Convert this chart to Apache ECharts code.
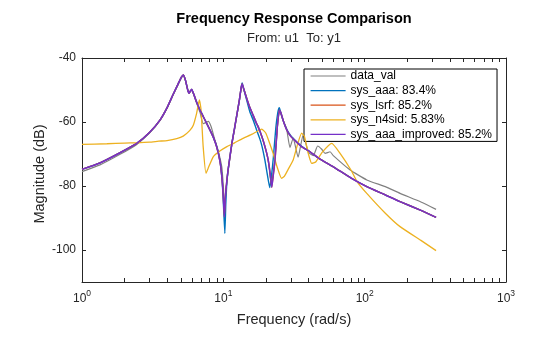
<!DOCTYPE html>
<html>
<head>
<meta charset="utf-8">
<script src="https://cdn.jsdelivr.net/npm/echarts@6.0.0/dist/echarts.min.js"></script>
<style>html,body{margin:0;padding:0;background:#fff;}#c{width:560px;height:337px;}</style>
</head>
<body>
<div id="c"></div>
<script>
// ---- data (frequency rad/s, magnitude dB) ----
const seriesNames = ['data_val', 'sys_aaa: 83.4%', 'sys_lsrf: 85.2%', 'sys_n4sid: 5.83%', 'sys_aaa_improved: 85.2%'];
const xTickValues = [1,2,3,4,5,6,7,8,9,10,20,30,40,50,60,70,80,90,100,200,300,400,500,600,700,800,900,1000];
const xLabelValues = [1, 10, 100, 1000];
const yTickValues = [-100, -80, -60, -40];

const dataVal = [[1,-75.5],[1.34,-73.4],[1.86,-70.1],[2.44,-67],[3,-63.5],[3.56,-59.6],[4,-55.7],[4.4,-51.7],[4.8,-48.2],[5.05,-46.2],[5.21,-45.5],[5.4,-47.2],[5.6,-50],[5.72,-51],[5.85,-50.4],[5.97,-50],[6.2,-51.7],[6.5,-54.3],[6.84,-57],[7.2,-60.5],[7.5,-60.2],[7.83,-59.8],[8.2,-61.5],[8.7,-65.5],[9.2,-69],[9.75,-74],[10.0,-80],[10.2,-87],[10.4,-82],[10.8,-75.5],[11.5,-67],[12,-62.3],[12.4,-58.6],[13,-53.3],[13.4,-49.3],[13.6,-48.5],[14.2,-50.5],[15,-54],[16,-57.3],[16.8,-60],[17.7,-61.3],[18.3,-63.5],[19.2,-66],[20.2,-69.5],[21,-73.5],[21.8,-79.5],[22.4,-77],[23.2,-71],[24.1,-62],[24.9,-56.6],[25.5,-57.5],[26.5,-59.5],[28,-62],[29.6,-68],[31.2,-65],[33.8,-71],[36.7,-64],[40,-69.5],[43.3,-70.5],[46.5,-67.5],[49.7,-68.5],[52.5,-69.8],[56.9,-69.3],[60,-70.5],[79,-75],[103.5,-78.1],[140,-80.2],[178,-82.3],[250,-85],[320,-87.3]];

const sysAaa = [[1,-74.8],[1.34,-72.8],[1.86,-69.6],[2.44,-66.7],[3,-63.3],[3.56,-59.4],[4,-55.5],[4.4,-51.5],[4.8,-48],[5.05,-46],[5.21,-45.3],[5.4,-47],[5.6,-50],[5.72,-51],[5.85,-50.3],[5.97,-49.8],[6.2,-51.5],[6.5,-54],[6.84,-56.3],[7.5,-59.8],[8,-62.3],[8.5,-64.8],[9,-67.8],[9.48,-72.3],[9.8,-78],[10.0,-85],[10.25,-94.8],[10.4,-86],[10.55,-80],[10.8,-75],[11.5,-66.5],[12,-62],[12.4,-58.3],[13,-53],[13.4,-49],[13.6,-47.8],[13.9,-49.5],[14.6,-53],[15.4,-56.8],[16.3,-59.5],[17.2,-62.5],[18.2,-65.5],[18.8,-67.7],[19.7,-72],[20.5,-76.5],[21.3,-80.5],[21.9,-77],[22.6,-71],[23.5,-62],[24.3,-57],[24.9,-55.5],[25.5,-57],[26.5,-59.5],[28.1,-62.3],[30,-64.3],[33,-66.2],[36,-67.7],[41,-69.3],[48,-71.5],[60,-74],[80,-77.5],[103.5,-80.2],[140,-82.8],[178,-84.9],[250,-87.6],[320,-89.8]];

const sysLsrf = [[1,-74.8],[1.34,-72.8],[1.86,-69.6],[2.44,-66.7],[3,-63.3],[3.56,-59.4],[4,-55.5],[4.4,-51.5],[4.8,-48],[5.05,-46],[5.21,-45.3],[5.4,-47],[5.6,-50],[5.72,-51],[5.85,-50.3],[5.97,-49.8],[6.2,-51.5],[6.5,-54],[6.84,-56.3],[7.5,-59.8],[8,-62.3],[8.5,-64.8],[9,-68],[9.48,-72.5],[9.8,-78],[10.0,-83.5],[10.17,-89.6],[10.35,-83],[10.55,-79],[10.8,-75],[11.5,-66.7],[12,-62],[12.4,-58.3],[13,-53],[13.4,-49],[13.6,-48.1],[13.9,-49.5],[14.6,-52.5],[15.4,-55.5],[16.3,-58],[17.2,-60.5],[18.2,-63],[19.2,-66],[20.2,-69.5],[20.8,-72],[21.5,-76.5],[22,-80.4],[22.5,-77],[23.2,-72],[24.1,-61.5],[24.9,-56.3],[25.5,-57],[26.5,-59.5],[28.1,-62.5],[30,-64.5],[33,-66.3],[36,-67.8],[41,-69.3],[48,-71.5],[60,-74],[80,-77.5],[103.5,-80.2],[140,-82.8],[178,-84.9],[250,-87.6],[320,-89.8]];

const sysN4sid = [[1,-67],[1.5,-66.8],[2,-66.6],[2.44,-66.5],[3,-66.3],[3.5,-66],[4,-65.8],[4.68,-65.2],[5.2,-64.4],[5.8,-62.6],[6.13,-61],[6.47,-57.3],[6.77,-53.1],[6.95,-56],[7.2,-67.7],[7.54,-76],[7.8,-74.5],[8.5,-70.8],[9.5,-69],[10.6,-67.7],[12,-66.5],[13.8,-65.1],[16,-63.8],[18.7,-62.2],[20,-63.5],[21.2,-66.5],[22.5,-69.8],[24,-74],[25.8,-77.6],[27,-77],[29,-74.5],[31.2,-71.9],[33.5,-67],[35.8,-63.5],[37.5,-64.5],[40,-70],[42.2,-72.9],[45,-72.5],[50,-69.5],[58.5,-66.7],[67,-69.8],[80,-75],[88.3,-78.6],[103.5,-82.3],[140,-88.5],[178,-92.7],[250,-97],[320,-100.2]];

const sysAaaImproved = [[1,-74.8],[1.34,-72.8],[1.86,-69.6],[2.44,-66.7],[3,-63.3],[3.56,-59.4],[4,-55.5],[4.4,-51.5],[4.8,-48],[5.05,-46],[5.21,-45.3],[5.4,-47],[5.6,-50],[5.72,-51],[5.85,-50.3],[5.97,-49.8],[6.2,-51.5],[6.5,-54],[6.84,-56.3],[7.5,-59.8],[8,-62.3],[8.5,-64.8],[9,-68],[9.48,-72.5],[9.8,-78],[10.0,-83.5],[10.17,-89.6],[10.35,-83],[10.55,-79],[10.8,-75],[11.5,-66.7],[12,-62],[12.4,-58.3],[13,-53],[13.4,-49],[13.6,-48.1],[13.9,-49.5],[14.6,-52.5],[15.4,-55.5],[16.3,-58],[17.2,-60.5],[18.2,-63],[19.2,-66],[20.2,-69.5],[20.8,-72],[21.5,-76.5],[22,-80.4],[22.5,-77],[23.2,-72],[24.1,-61.5],[24.9,-56.3],[25.5,-57],[26.5,-59.5],[28.1,-62.5],[30,-64.5],[33,-66.3],[36,-67.8],[41,-69.3],[48,-71.5],[60,-74],[80,-77.5],[103.5,-80.2],[140,-82.8],[178,-84.9],[250,-87.6],[320,-89.8]];

const seriesData = [dataVal, sysAaa, sysLsrf, sysN4sid, sysAaaImproved];
const colors = ['#808080', '#0072BD', '#D95319', '#EDB120', '#7530C8'];
const widths = [1.2, 1.4, 1.4, 1.3, 1.5];

const FONT = '"Liberation Sans", Arial, Helvetica, sans-serif';
const AX = '#262626';

const chart = echarts.init(document.getElementById('c'), null, {renderer: 'canvas'});

function xAxisCfg(pos, showLabel) {
  return {
    type: 'log', logBase: 10, min: 1, max: 1000, position: pos,
    axisLine: {show: true, onZero: false, lineStyle: {color: AX, width: 1}},
    axisTick: {show: true, inside: true, length: 4, customValues: xTickValues, lineStyle: {color: AX, width: 1}},
    axisLabel: {
      show: showLabel, customValues: xLabelValues, margin: 7, color: AX, fontFamily: FONT,
      formatter: v => '{b|10}{s|' + Math.round(Math.log10(v)) + '}',
      rich: {
        b: {fontSize: 12, fontFamily: FONT, color: AX, verticalAlign: 'bottom', lineHeight: 16},
        s: {fontSize: 8.5, fontFamily: FONT, color: AX, verticalAlign: 'bottom', padding: [0, 0, 7, 0], lineHeight: 16}
      }
    },
    splitLine: {show: false}, minorTick: {show: false}
  };
}
function yAxisCfg(pos, showLabel) {
  return {
    type: 'value', min: -110, max: -40, position: pos,
    axisLine: {show: true, onZero: false, lineStyle: {color: AX, width: 1}},
    axisTick: {show: true, inside: true, length: 4, customValues: yTickValues, lineStyle: {color: AX, width: 1}},
    axisLabel: {show: showLabel, customValues: yTickValues, margin: 6, color: AX, fontSize: 12, fontFamily: FONT},
    splitLine: {show: false}
  };
}

const option = {
  animation: false,
  backgroundColor: '#ffffff',
  grid: {left: 82, right: 54, top: 58, bottom: 55, containLabel: false},
  xAxis: [xAxisCfg('bottom', true), xAxisCfg('top', false)],
  yAxis: [yAxisCfg('left', true), yAxisCfg('right', false)],
  legend: {
    orient: 'vertical', left: 304, top: 69,
    data: seriesNames,
    itemWidth: 35, itemHeight: 12, itemGap: 2.6,
    padding: [1, 5, 1, 6],
    itemStyle: {opacity: 0, borderWidth: 0},
    lineStyle: {width: 1.2},
    backgroundColor: '#ffffff', borderColor: '#000000', borderWidth: 1, borderRadius: 0,
    textStyle: {fontSize: 12, fontFamily: FONT, color: '#000000'},
    selectedMode: false
  },
  graphic: [
    {type: 'text', x: 294, y: 19, style: {text: 'Frequency Response Comparison', font: 'bold 14.5px ' + FONT, fill: '#000000', textAlign: 'center', textVerticalAlign: 'middle'}},
    {type: 'text', x: 294, y: 38.5, style: {text: 'From: u1  To: y1', font: '13px ' + FONT, fill: AX, textAlign: 'center', textVerticalAlign: 'middle'}},
    {type: 'text', x: 294, y: 320, style: {text: 'Frequency (rad/s)', font: '14.5px ' + FONT, fill: AX, textAlign: 'center', textVerticalAlign: 'middle'}},
    {type: 'text', x: 40, y: 174, rotation: Math.PI / 2, style: {text: 'Magnitude (dB)', font: '14.5px ' + FONT, fill: AX, textAlign: 'center', textVerticalAlign: 'middle'}}
  ],
  series: seriesData.map((d, i) => ({
    name: seriesNames[i], type: 'line', data: d, xAxisIndex: 0, yAxisIndex: 0,
    symbol: 'none', showSymbol: false, smooth: 0.15,
    lineStyle: {color: colors[i], width: widths[i]}, itemStyle: {color: colors[i]},
    emphasis: {disabled: true}, silent: true, z: 2 + i
  }))
};
chart.setOption(option);
</script>
</body>
</html>
